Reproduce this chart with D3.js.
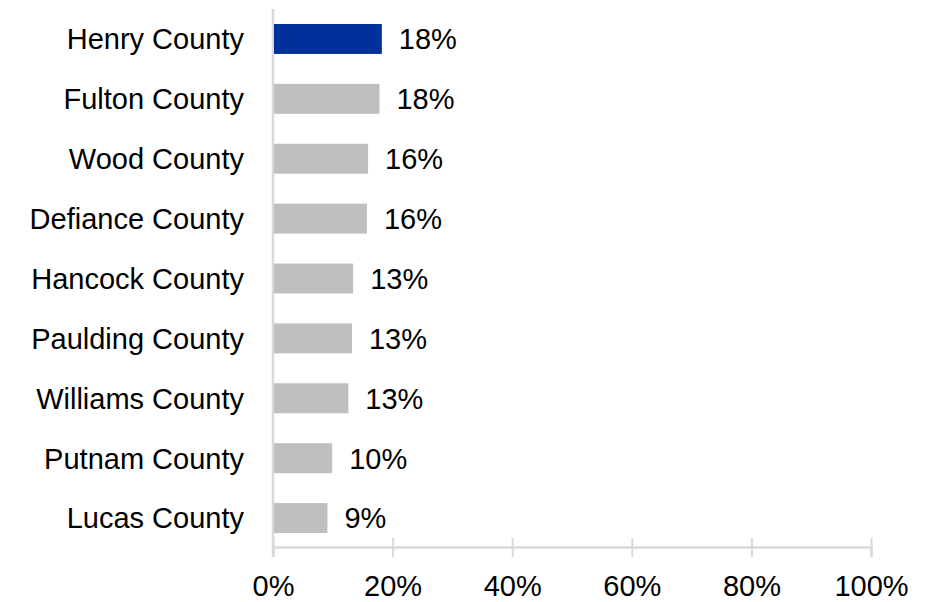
<!DOCTYPE html>
<html>
<head>
<meta charset="utf-8">
<script src="https://cdn.jsdelivr.net/npm/d3@7"></script>
<style>
  body { margin: 0; background: #fff; }
  text { font-family: "Liberation Sans", Arial, sans-serif; fill: #000; }
</style>
</head>
<body>
<svg width="930" height="602"></svg>
<script>
var counties = ["Henry County", "Fulton County", "Wood County", "Defiance County", "Hancock County",
                "Paulding County", "Williams County", "Putnam County", "Lucas County"];
var values = [18.2, 17.8, 15.9, 15.7, 13.4, 13.2, 12.6, 9.9, 9.1];
var valueLabels = ["18%", "18%", "16%", "16%", "13%", "13%", "13%", "10%", "9%"];
var tickValues = [0, 20, 40, 60, 80, 100];
var highlight = "Henry County";

var svg = d3.select("svg"),
    margin = {top: 9, right: 59, bottom: 54, left: 273},
    width = svg.attr("width") - margin.left - margin.right,
    height = svg.attr("height") - margin.top - margin.bottom;

var data = counties.map(function(c, i) { return {county: c, value: values[i], label: valueLabels[i]}; });

var x = d3.scaleLinear().domain([0, 100]).range([0, width]);
var y = d3.scaleBand().domain(counties).range([0, height]).paddingInner(0.5).paddingOuter(0.25);

var g = svg.append("g")
    .attr("transform", "translate(" + margin.left + "," + margin.top + ")");

// x axis, ticks cross the baseline
var xAxis = g.append("g")
    .attr("transform", "translate(0," + (height - 1) + ")")
    .call(d3.axisBottom(x).tickValues(tickValues).tickSize(10).tickFormat(function(d) { return d + "%"; }));
xAxis.select(".domain").attr("stroke", "#d9d9d9").attr("stroke-width", 2.5);
xAxis.selectAll(".tick line").attr("stroke", "#d9d9d9").attr("stroke-width", 2).attr("y1", -9).attr("y2", 10);
xAxis.selectAll(".tick text")
    .attr("y", 28)
    .attr("dy", "0.71em")
    .style("font-size", "29px")
    .style("font-family", "'Liberation Sans', Arial, sans-serif")
    .attr("fill", "#000");

// vertical category axis line
g.append("line")
    .attr("x1", 0).attr("x2", 0)
    .attr("y1", 0).attr("y2", height + 9)
    .attr("stroke", "#d9d9d9")
    .attr("stroke-width", 2.5);

g.selectAll(".cat")
    .data(data)
    .enter().append("text")
      .attr("class", "cat")
      .attr("x", -29)
      .attr("y", function(d) { return y(d.county) + y.bandwidth() / 2; })
      .attr("dy", "0.36em")
      .attr("text-anchor", "end")
      .style("font-size", "29px")
      .text(function(d) { return d.county; });

g.selectAll(".bar")
    .data(data)
    .enter().append("rect")
      .attr("class", "bar")
      .attr("x", 1)
      .attr("y", function(d) { return y(d.county); })
      .attr("width", function(d) { return x(d.value) - 1; })
      .attr("height", y.bandwidth())
      .attr("fill", function(d) { return d.county === highlight ? "#00309c" : "#bfbfbf"; });

g.selectAll(".val")
    .data(data)
    .enter().append("text")
      .attr("class", "val")
      .attr("x", function(d) { return x(d.value) + 17; })
      .attr("y", function(d) { return y(d.county) + y.bandwidth() / 2; })
      .attr("dy", "0.36em")
      .style("font-size", "29px")
      .text(function(d) { return d.label; });
</script>
</body>
</html>
